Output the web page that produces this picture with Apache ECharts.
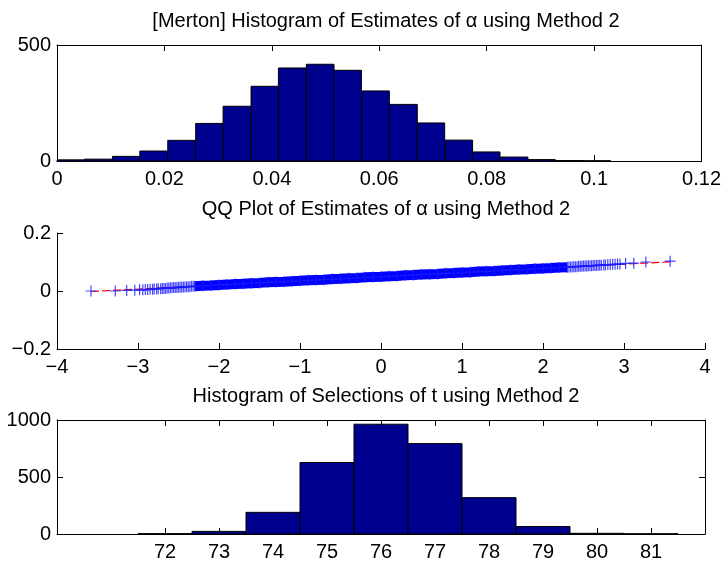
<!DOCTYPE html>
<html><head><meta charset="utf-8">
<script src="https://cdn.jsdelivr.net/npm/echarts@6/dist/echarts.min.js"></script>
<style>html,body{margin:0;padding:0;background:#fff}#c{width:724px;height:562px}</style>
</head><body><div id="c"></div>
<script>
// ---------- data ----------
const titles = [
  '[Merton] Histogram of Estimates of \u03b1 using Method 2',
  'QQ Plot of Estimates of \u03b1 using Method 2',
  'Histogram of Selections of t using Method 2'
];

// Histogram 1: estimates of alpha (bin centres, counts)
const alphaCenters = [0.0026, 0.0077, 0.0129, 0.0180, 0.0232, 0.0284, 0.0335, 0.0387, 0.0438, 0.0490,
                      0.0541, 0.0593, 0.0645, 0.0696, 0.0748, 0.0799, 0.0851, 0.0902, 0.0954, 0.1005];
const alphaBinWidth = 0.005155;
const alphaCounts = [5, 8, 20, 43, 89, 162, 236, 322, 401, 417,
                     391, 302, 244, 164, 90, 39, 17, 6, 2, 1];
const alphaXTicks = [0, 0.02, 0.04, 0.06, 0.08, 0.1, 0.12];
const alphaYTicks = [0, 500];

// QQ plot: standard normal quantiles vs sample quantiles
const qqX = [-3.58, -3.28, -3.14, -3.04, -2.98, -2.94, -2.91, -2.88, -2.85, -2.82, -2.80, -2.77, -2.75, -2.72,
  -2.70, -2.68, -2.66, -2.64, -2.62, -2.60, -2.58, -2.56, -2.54, -2.52, -2.50, -2.48, -2.46, -2.44, -2.42,
  -2.40, -2.38, -2.36, -2.34, -2.32, -2.30,
  -2.2, -2.1, -2.0, -1.9, -1.8, -1.7, -1.6, -1.5, -1.4, -1.3, -1.2, -1.1, -1.0,
  -0.9, -0.8, -0.7, -0.6, -0.5, -0.4, -0.3, -0.2, -0.1, 0.0, 0.1, 0.2, 0.3, 0.4, 0.5, 0.6, 0.7, 0.8, 0.9,
  1.0, 1.1, 1.2, 1.3, 1.4, 1.5, 1.6, 1.7, 1.8, 1.9, 2.0, 2.1, 2.2,
  2.30, 2.32, 2.34, 2.36, 2.38, 2.40, 2.42, 2.44, 2.46, 2.48, 2.50, 2.52, 2.54, 2.56, 2.58, 2.60,
  2.62, 2.64, 2.66, 2.68, 2.70, 2.72, 2.75, 2.77, 2.80, 2.83, 2.86, 2.89, 2.92, 2.95, 3.02, 3.12, 3.27, 3.57];
const qqY = [0.000, 0.000, 0.002, 0.003, 0.004, 0.004, 0.005, 0.005, 0.006, 0.006, 0.007, 0.007, 0.008, 0.008,
  0.009, 0.009, 0.009, 0.010, 0.010, 0.011, 0.011, 0.012, 0.012, 0.012, 0.013, 0.013, 0.014, 0.014, 0.014,
  0.015, 0.015, 0.015, 0.016, 0.016, 0.016,
  0.018, 0.019, 0.021, 0.022, 0.024, 0.025, 0.027, 0.028, 0.030, 0.031, 0.032, 0.034, 0.035,
  0.037, 0.038, 0.039, 0.041, 0.042, 0.044, 0.045, 0.047, 0.048, 0.049, 0.051, 0.052, 0.054, 0.055, 0.057, 0.058, 0.059, 0.061, 0.062,
  0.064, 0.065, 0.067, 0.068, 0.069, 0.071, 0.072, 0.074, 0.075, 0.077, 0.078, 0.079, 0.081,
  0.082, 0.083, 0.083, 0.083, 0.084, 0.084, 0.084, 0.085, 0.085, 0.085, 0.086, 0.086, 0.086, 0.087, 0.087, 0.087,
  0.088, 0.088, 0.088, 0.089, 0.089, 0.089, 0.090, 0.090, 0.091, 0.091, 0.092, 0.092, 0.093, 0.093, 0.095, 0.096, 0.100, 0.103];
const qqRefX = [-3.58, 3.57];
const qqRefY = [-0.0017, 0.1006];
const qqXTicks = [-4, -3, -2, -1, 0, 1, 2, 3, 4];
const qqYTicks = [-0.2, 0, 0.2];

// Histogram 3: selections of t
const tCenters = [72, 73, 74, 75, 76, 77, 78, 79, 80, 81];
const tBinWidth = 1;
const tCounts = [3, 23, 190, 627, 963, 793, 319, 66, 6, 2];
const tXTicks = [72, 73, 74, 75, 76, 77, 78, 79, 80, 81];
const tYTicks = [0, 500, 1000];

// ---------- layout / style ----------
const FONT = '"Liberation Sans", Arial, Helvetica, sans-serif';
const FS = 20;
const LEFT = 57, RIGHT = 19, H = 116;
const tops = [45, 233, 420];
const titleTops = [6, 194, 381];
const BAR = '#00008f';

function fmt(v) {
  const s = String(+(+v).toFixed(4));
  return s.charAt(0) === '-' ? '\u2212' + s.slice(1) : s;
}

function xAxis(gi, min, max, interval, ticks, pos, showLabel) {
  return {
    type: 'value', gridIndex: gi, position: pos, min: min, max: max, interval: interval,
    splitLine: { show: false },
    axisLine: { show: true, onZero: false, lineStyle: { color: '#000', width: 1 } },
    axisTick: { show: true, inside: true, length: 6, customValues: ticks, lineStyle: { color: '#000', width: 1 } },
    axisLabel: { show: showLabel, customValues: ticks, formatter: fmt, color: '#000', fontFamily: FONT, fontSize: FS, margin: 8, showMinLabel: true, showMaxLabel: true }
  };
}
function yAxis(gi, min, max, interval, ticks, pos, showLabel) {
  return {
    type: 'value', gridIndex: gi, position: pos, min: min, max: max, interval: interval,
    splitLine: { show: false },
    axisLine: { show: true, onZero: false, lineStyle: { color: '#000', width: 1 } },
    axisTick: { show: true, inside: true, length: 6, customValues: ticks, lineStyle: { color: '#000', width: 1 } },
    axisLabel: { show: showLabel, customValues: ticks, formatter: fmt, color: '#000', fontFamily: FONT, fontSize: FS, margin: 6, showMinLabel: true, showMaxLabel: true }
  };
}

function histRender(width) {
  return function (params, api) {
    const c = api.value(0), h = api.value(1);
    const p0 = api.coord([c - width / 2, h]);
    const p1 = api.coord([c + width / 2, 0]);
    return {
      type: 'rect',
      shape: { x: p0[0], y: p0[1], width: p1[0] - p0[0], height: p1[1] - p0[1] },
      style: { fill: BAR, stroke: '#000', lineWidth: 1 }
    };
  };
}

const plusPath = 'path://M0,4.45 L10,4.45 L10,5.55 L0,5.55 Z M4.45,0 L5.55,0 L5.55,10 L4.45,10 Z';

const qqPts = qqX.map((x, i) => [x, qqY[i]]);
const bandPts = qqPts.filter(p => Math.abs(p[0]) <= 2.3);

const option = {
  animation: false,
  backgroundColor: '#fff',
  title: titles.map((t, i) => ({
    text: t, left: LEFT + (724 - LEFT - RIGHT) / 2, top: titleTops[i], textAlign: 'center',
    textStyle: { fontFamily: FONT, fontSize: FS, fontWeight: 'normal', color: '#000' }
  })),
  grid: tops.map(t => ({ left: LEFT, right: RIGHT, top: t, height: H, containLabel: false })),
  xAxis: [
    xAxis(0, 0, 0.12, 0.02, alphaXTicks, 'bottom', true),
    xAxis(0, 0, 0.12, 0.02, alphaXTicks, 'top', false),
    xAxis(1, -4, 4, 1, qqXTicks, 'bottom', true),
    xAxis(2, 70, 82, 1, tXTicks, 'bottom', true),
    xAxis(2, 70, 82, 1, tXTicks, 'top', false)
  ],
  yAxis: [
    yAxis(0, 0, 500, 500, alphaYTicks, 'left', true),
    yAxis(0, 0, 500, 500, alphaYTicks, 'right', false),
    yAxis(1, -0.2, 0.2, 0.2, qqYTicks, 'left', true),
    yAxis(2, 0, 1000, 500, tYTicks, 'left', true),
    yAxis(2, 0, 1000, 500, tYTicks, 'right', false)
  ],
  series: [
    {
      type: 'custom', xAxisIndex: 0, yAxisIndex: 0,
      renderItem: histRender(alphaBinWidth),
      encode: { x: 0, y: 1 },
      data: alphaCenters.map((c, i) => [c, alphaCounts[i]]),
      z: 2
    },
    {
      type: 'line', xAxisIndex: 2, yAxisIndex: 2, showSymbol: false, silent: true,
      data: qqRefX.map((x, i) => [x, qqRefY[i]]),
      lineStyle: { color: '#ff0000', width: 1.2, type: [8, 3] }, z: 1
    },
    {
      type: 'line', xAxisIndex: 2, yAxisIndex: 2, showSymbol: false, silent: true,
      data: bandPts,
      lineStyle: { color: '#0000ff', width: 10, cap: 'butt' }, z: 2
    },
    {
      type: 'scatter', xAxisIndex: 2, yAxisIndex: 2,
      symbol: plusPath, symbolSize: 11,
      data: qqPts,
      itemStyle: { color: '#1a1aff', opacity: 0.8 }, z: 3
    },
    {
      type: 'custom', xAxisIndex: 3, yAxisIndex: 3,
      renderItem: histRender(tBinWidth),
      encode: { x: 0, y: 1 },
      data: tCenters.map((c, i) => [c, tCounts[i]]),
      z: 2
    }
  ]
};

const chart = echarts.init(document.getElementById('c'), null, { renderer: 'canvas' });
chart.setOption(option);
</script>
</body></html>
